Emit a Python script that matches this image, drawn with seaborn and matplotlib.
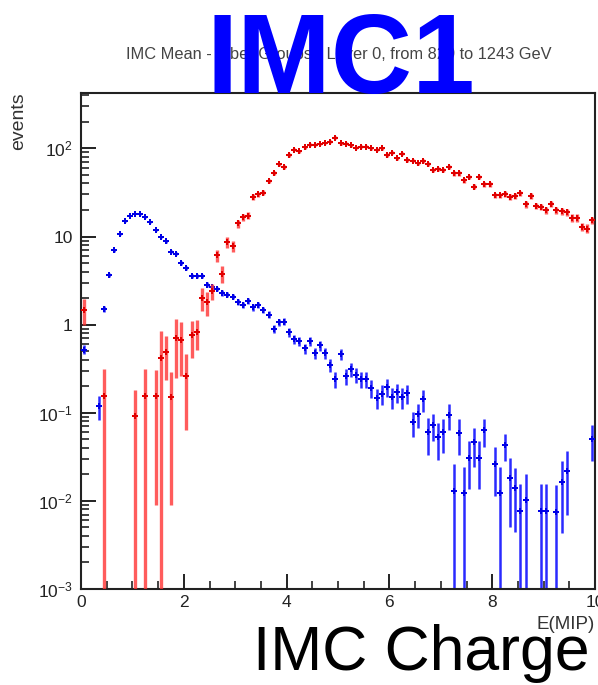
import numpy as np
import pandas as pd
import matplotlib
matplotlib.use("Agg")
import matplotlib.pyplot as plt
import seaborn as sns
from matplotlib.ticker import FixedLocator, FixedFormatter, MultipleLocator, NullFormatter

# bin centres (MIP), contents and errors
blue_x = [0.05, 0.35, 0.45, 0.55, 0.65, 0.75, 0.85, 0.95, 1.05, 1.15, 1.25, 1.35, 1.45, 1.55,
          1.65, 1.75, 1.85, 1.95, 2.05, 2.15, 2.25, 2.35, 2.45, 2.55, 2.65, 2.75, 2.85, 2.95,
          3.05, 3.15, 3.25, 3.35, 3.45, 3.55, 3.65, 3.75, 3.85, 3.95, 4.05, 4.15, 4.25, 4.35,
          4.45, 4.55, 4.65, 4.75, 4.85, 4.95, 5.05, 5.15, 5.25, 5.35, 5.45, 5.55, 5.65, 5.75,
          5.85, 5.95, 6.05, 6.15, 6.25, 6.35, 6.45, 6.55, 6.65, 6.75, 6.85, 6.95, 7.05, 7.15,
          7.25, 7.35, 7.45, 7.55, 7.65, 7.75, 7.85, 8.05, 8.15, 8.25, 8.35, 8.45, 8.55, 8.65,
          8.95, 9.05, 9.25, 9.35, 9.45, 9.95]
blue_y = [0.52, 0.118, 1.51, 3.7, 7.0, 10.6, 14.9, 17.3, 18.2, 18.0, 16.5, 14.5, 11.8, 9.9,
          8.8, 6.7, 6.4, 5.0, 4.4, 3.6, 3.6, 3.55, 2.85, 2.65, 2.54, 2.29, 2.19, 2.07,
          1.82, 1.66, 1.87, 1.57, 1.69, 1.48, 1.30, 0.89, 1.06, 1.08, 0.82, 0.68, 0.65, 0.54,
          0.65, 0.48, 0.58, 0.48, 0.35, 0.24, 0.46, 0.26, 0.31, 0.27, 0.24, 0.24, 0.19, 0.147,
          0.165, 0.195, 0.15, 0.17, 0.15, 0.167, 0.078, 0.097, 0.143, 0.060, 0.073, 0.053, 0.060, 0.095,
          0.0131, 0.059, 0.0122, 0.0305, 0.046, 0.0305, 0.063, 0.0263, 0.0122, 0.043, 0.018, 0.0139, 0.0077, 0.0101,
          0.0077, 0.0077, 0.0075, 0.0163, 0.022, 0.050]
blue_err = [0.06, 0.035, 0.12, 0.19, 0.26, 0.33, 0.39, 0.42, 0.43, 0.42, 0.41, 0.38, 0.34, 0.31,
            0.30, 0.26, 0.25, 0.22, 0.21, 0.19, 0.19, 0.19, 0.17, 0.16, 0.16, 0.15, 0.15, 0.14,
            0.13, 0.13, 0.14, 0.13, 0.13, 0.12, 0.11, 0.09, 0.10, 0.10, 0.09, 0.08, 0.08, 0.07,
            0.08, 0.07, 0.076, 0.07, 0.059, 0.049, 0.068, 0.051, 0.056, 0.052, 0.049, 0.049, 0.044, 0.038,
            0.041, 0.044, 0.039, 0.041, 0.039, 0.041, 0.025, 0.03, 0.04, 0.027, 0.025, 0.024, 0.025, 0.032,
            0.0131, 0.026, 0.0122, 0.017, 0.022, 0.017, 0.022, 0.015, 0.0122, 0.015, 0.013, 0.0095, 0.0077, 0.0101,
            0.0077, 0.0077, 0.0075, 0.012, 0.015, 0.022]

red_x = [0.05, 0.45, 1.05, 1.25, 1.45, 1.55, 1.65, 1.75, 1.85, 1.95, 2.05, 2.15, 2.25, 2.35,
         2.45, 2.55, 2.65, 2.75, 2.85, 2.95, 3.05, 3.15, 3.25, 3.35, 3.45, 3.55, 3.65, 3.75,
         3.85, 3.95, 4.05, 4.15, 4.25, 4.35, 4.45, 4.55, 4.65, 4.75, 4.85, 4.95, 5.05, 5.15,
         5.25, 5.35, 5.45, 5.55, 5.65, 5.75, 5.85, 5.95, 6.05, 6.15, 6.25, 6.35, 6.45, 6.55,
         6.65, 6.75, 6.85, 6.95, 7.05, 7.15, 7.25, 7.35, 7.45, 7.55, 7.65, 7.75, 7.85, 7.95,
         8.05, 8.15, 8.25, 8.35, 8.45, 8.55, 8.65, 8.75, 8.85, 8.95, 9.05, 9.15, 9.25, 9.35,
         9.45, 9.55, 9.65, 9.75, 9.85, 9.95]
red_y = [1.48, 0.156, 0.091, 0.156, 0.156, 0.418, 0.485, 0.149, 0.705, 0.663, 0.263, 0.756, 0.818, 2.01,
         1.79, 2.39, 6.1, 3.8, 8.6, 7.8, 14.1, 16.6, 17.3, 28.3, 30.0, 31.4, 42.5, 52.8,
         66, 61, 84, 97, 93, 103, 110, 110, 112, 115, 119, 132, 114, 113,
         109, 102, 105, 104, 100, 96, 100, 84, 89, 77, 87, 74, 72.5, 67.5,
         72, 67, 56.6, 59, 56.6, 61, 52, 52, 43.3, 47.2, 36.7, 47.2, 39, 39,
         29.2, 29.2, 30.5, 28.3, 28.8, 30.8, 23.1, 28.7, 22.1, 21.7, 19.9, 23.5, 19.9, 19.4,
         18.9, 16.3, 16.3, 12.9, 12.3, 15.3]
red_err = [0.48, 0.156, 0.091, 0.156, 0.147, 0.418, 0.25, 0.14, 0.46, 0.40, 0.20, 0.34, 0.30, 0.60,
           0.55, 0.50, 1.0, 0.8, 1.15, 1.1, 1.45, 1.6, 1.6, 2.1, 2.1, 2.2, 2.5, 2.8,
           3.1, 3.0, 3.5, 3.8, 3.7, 3.9, 4.0, 4.0, 4.1, 4.1, 4.2, 4.4, 4.1, 4.1,
           4.0, 3.9, 4.0, 3.9, 3.9, 3.8, 3.9, 3.5, 3.6, 3.4, 3.6, 3.3, 3.3, 3.2,
           3.3, 3.2, 2.9, 3.0, 2.9, 3.0, 2.8, 2.8, 2.5, 2.7, 2.3, 2.7, 2.4, 2.4,
           2.1, 2.1, 2.1, 2.1, 2.1, 2.1, 1.9, 2.1, 1.8, 1.8, 1.7, 1.9, 1.7, 1.7,
           1.7, 1.6, 1.6, 1.4, 1.4, 1.5]

y_ticks = [1e-3, 1e-2, 1e-1, 1, 10, 100]
y_labels = ["$10^{-3}$", "$10^{-2}$", "$10^{-1}$", "1", "10", "$10^{2}$"]
x_ticks = [0, 2, 4, 6, 8, 10]

sns.set_style("ticks")
plt.rcParams["font.family"] = ["Liberation Sans", "DejaVu Sans"]
plt.rcParams["mathtext.fontset"] = "custom"
plt.rcParams["mathtext.rm"] = "Liberation Sans"
plt.rcParams["mathtext.default"] = "regular"

fig = plt.figure(figsize=(5.98, 6.85), dpi=100)
ax = fig.add_axes([81 / 598, (685 - 589) / 685, (595 - 81) / 598, (589 - 93) / 685])

blue_df = pd.DataFrame({"E": blue_x, "events": blue_y})
red_df = pd.DataFrame({"E": red_x, "events": red_y})

ax.errorbar(blue_x, blue_y, yerr=blue_err, fmt="none", ecolor="#2a2aff", elinewidth=1.8, capsize=0, zorder=2)
sns.scatterplot(data=blue_df, x="E", y="events", marker="P", s=22, color="#0000e6",
                linewidth=0, ax=ax, zorder=3)
ax.errorbar(red_x, red_y, yerr=red_err, fmt="none", ecolor=(1, 0.2, 0.2, 0.8), elinewidth=2.4, capsize=0, zorder=4)
sns.scatterplot(data=red_df, x="E", y="events", marker="P", s=22, color="#e00000",
                linewidth=0, ax=ax, zorder=5)

ax.set_yscale("log")
ax.set_xlim(0, 10)
ax.set_ylim(1e-3, 425)
ax.set_xlabel("")
ax.set_ylabel("")

ax.xaxis.set_major_locator(FixedLocator(x_ticks))
ax.xaxis.set_minor_locator(MultipleLocator(0.5))
ax.yaxis.set_major_locator(FixedLocator(y_ticks))
ax.yaxis.set_major_formatter(FixedFormatter(y_labels))
ax.yaxis.set_minor_locator(FixedLocator([m * 10.0 ** d for d in range(-3, 3) for m in range(2, 10)]))
ax.yaxis.set_minor_formatter(NullFormatter())

ax.tick_params(which="major", direction="in", length=11, width=1.4, color="#222222",
               labelsize=12.5, labelcolor="#222222", top=False, right=False)
ax.tick_params(which="minor", direction="in", length=5.5, width=1.2, color="#222222",
               top=False, right=False)
ax.tick_params(axis="x", which="major", pad=4)
ax.tick_params(axis="y", which="major", pad=6)
for s in ax.spines.values():
    s.set_linewidth(1.5)
    s.set_color("#222222")
    s.set_visible(True)

fig.text(19 / 598, 1 - 92 / 685, "events", rotation=90, ha="center", va="top",
         fontsize=14, color="#333333")
fig.text(595 / 598, 1 - 616 / 685, "E(MIP)", ha="right", va="top", fontsize=13.5, color="#333333")
fig.text(339 / 598, 1 - 55 / 685, "IMC Mean - Fiber Groups - Layer 0, from 829 to 1243 GeV",
         ha="center", va="center", fontsize=11.8, color="#444444")
fig.text(341 / 598, 1 - 93 / 685, "IMC1", ha="center", va="baseline", fontsize=81,
         fontweight="bold", color="#0000ff", zorder=10)
fig.text(590 / 598, 1 - 670 / 685, "IMC Charge", ha="right", va="baseline", fontsize=45,
         color="black")

fig.savefig("out.png", dpi=100)
